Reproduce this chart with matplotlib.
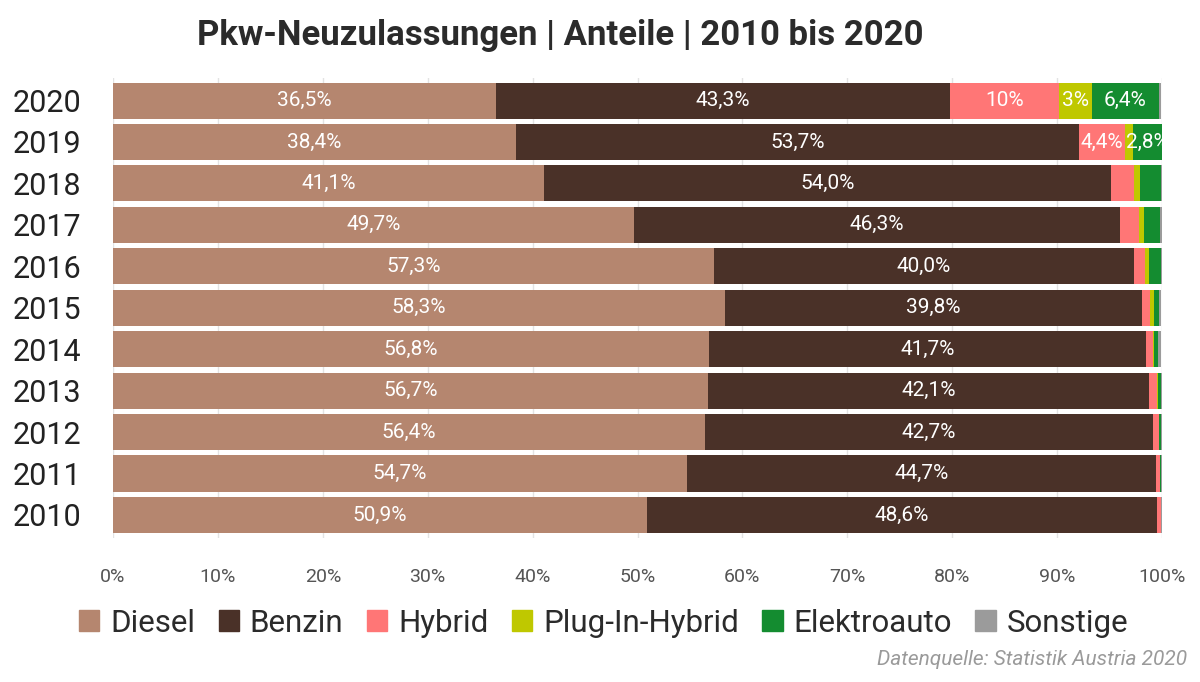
import numpy as np
import matplotlib

matplotlib.use("Agg")
import matplotlib.pyplot as plt
from matplotlib.patches import Patch

FONT = ["Roboto", "DejaVu Sans"]
plt.rcParams["font.family"] = FONT

# Anteile der Pkw-Neuzulassungen in Prozent (2010 .. 2020)
years = [2010, 2011, 2012, 2013, 2014, 2015, 2016, 2017, 2018, 2019, 2020]
diesel = [50.9, 54.7, 56.4, 56.7, 56.8, 58.3, 57.3, 49.7, 41.1, 38.4, 36.5]
benzin = [48.6, 44.7, 42.7, 42.1, 41.7, 39.8, 40.0, 46.3, 54.0, 53.7, 43.3]
hybrid = [0.4, 0.4, 0.6, 0.7, 0.6, 0.8, 1.1, 1.8, 2.2, 4.4, 10.4]
plugin = [0.0, 0.0, 0.0, 0.1, 0.1, 0.3, 0.4, 0.5, 0.6, 0.7, 3.1]
elektro = [0.0, 0.1, 0.2, 0.3, 0.4, 0.5, 1.1, 1.5, 2.0, 2.8, 6.4]
sonstige = [0.1, 0.1, 0.1, 0.1, 0.3, 0.2, 0.1, 0.2, 0.1, 0.0, 0.2]

series = [
    ("Diesel", diesel, "#b5866f"),
    ("Benzin", benzin, "#4a3128"),
    ("Hybrid", hybrid, "#ff7676"),
    ("Plug-In-Hybrid", plugin, "#bfc800"),
    ("Elektroauto", elektro, "#148c30"),
    ("Sonstige", sonstige, "#9b9b9b"),
]
# Beschriftungen, die in der Vorlage gerundet angezeigt werden
label_override = {("Hybrid", 2020): "10%", ("Plug-In-Hybrid", 2020): "3%"}
min_label = 2.5


def fmt(v):
    return f"{v:.1f}".replace(".", ",") + "%"


fig = plt.figure(figsize=(12, 6.82), dpi=100)
ax = fig.add_axes([0.0942, 0.2115, 0.8741, 0.6745])

y = np.arange(len(years))
left = np.zeros(len(years))
for name, vals, color in series:
    vals = np.array(vals)
    ax.barh(y, vals, left=left, height=0.87, color=color, zorder=2)
    for i, v in enumerate(vals):
        txt = label_override.get((name, years[i]))
        if txt is None and v >= min_label:
            txt = fmt(v)
        if txt:
            ax.text(left[i] + v / 2, y[i], txt, ha="center", va="center",
                    color="white", fontsize=15, zorder=3)
    left += vals

ax.set_xlim(0, 100)
ax.set_ylim(-0.55, 10.55)
ax.set_xticks(np.arange(0, 101, 10))
ax.set_xticklabels([f"{t}%" for t in range(0, 101, 10)], fontsize=14, color="#555555")
ax.set_yticks(y)
ax.set_yticklabels([str(a) for a in years], fontsize=22, color="#222222")
ax.tick_params(axis="x", length=0, pad=22)
ax.tick_params(axis="y", length=0, pad=23)
ax.grid(axis="x", color="#e3e3e3", lw=1, zorder=0)
for s in ax.spines.values():
    s.set_visible(False)

fig.text(0.467, 0.948, "Pkw-Neuzulassungen | Anteile | 2010 bis 2020",
         ha="center", va="center", fontsize=25, fontweight="bold", color="#2b2b2b")

handles = [Patch(color=c, label=n) for n, _, c in series]
fig.legend(handles=handles, loc="center", bbox_to_anchor=(0.503, 0.086), ncol=6,
           frameon=False, fontsize=22.5, handlelength=0.65, handleheight=0.65,
           handletextpad=0.35, columnspacing=0.75, labelcolor="#2b2b2b")

fig.text(0.989, 0.033, "Datenquelle: Statistik Austria 2020", ha="right", va="center",
         fontsize=15, style="italic", color="#9a9a9a")

fig.savefig("out.png", dpi=100)
